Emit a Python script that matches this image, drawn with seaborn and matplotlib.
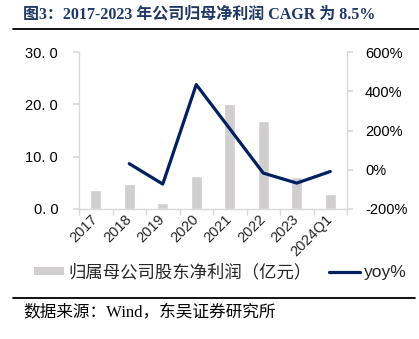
import numpy as np
import pandas as pd
import matplotlib
matplotlib.use("Agg")
import matplotlib.pyplot as plt
from matplotlib.patches import Patch
from matplotlib.lines import Line2D
import seaborn as sns

categories = ["2017", "2018", "2019", "2020", "2021", "2022", "2023", "2024Q1"]
profit = [3.7, 4.8, 1.15, 6.3, 20.0, 16.8, 6.1, 2.9]
yoy = [np.nan, 31, -73, 434, 209, -17, -68, -9]
left_ticks = [0, 10, 20, 30]
left_labels = ["0. 0", "10. 0", "20. 0", "30. 0"]
right_ticks = [-200, 0, 200, 400, 600]
right_labels = ["-200%", "0%", "200%", "400%", "600%"]
title = "图3：2017-2023 年公司归母净利润 CAGR 为 8.5%"
bar_label = "归属母公司股东净利润（亿元）"
line_label = "yoy%"
source = "数据来源：Wind，东吴证券研究所"

sns.set_theme(style="white")
plt.rcParams["font.family"] = ["Liberation Sans", "Noto Sans CJK SC", "DejaVu Sans"]

df = pd.DataFrame({"cat": categories, "profit": profit, "yoy": yoy,
                   "pos": np.arange(len(categories))})

W, H = 419, 339
fig = plt.figure(figsize=(W / 100, H / 100), dpi=100)
ax = fig.add_axes([79 / W, 130 / H, 268 / W, 157 / H])

bar_color = "#D0CECE"
line_color = "#002060"
spine_color = "#D9D9D9"

sns.barplot(data=df, x="cat", y="profit", color=bar_color, width=0.32,
            saturation=1, ax=ax)
ax.set_xlim(-0.5, len(categories) - 0.5)
ax.set_ylim(0, 30)
ax.set_yticks(left_ticks)
ax.set_yticklabels(left_labels, fontsize=10.5)
ax.set_xlabel("")
ax.set_ylabel("")

ax2 = ax.twinx()
sns.lineplot(data=df, x="pos", y="yoy", color=line_color, linewidth=2.3,
             ax=ax2, legend=False)
ax2.set_ylim(-200, 600)
ax2.set_yticks(right_ticks)
ax2.set_yticklabels(right_labels, fontsize=10.5)
ax2.set_xlim(-0.5, len(categories) - 0.5)
ax2.set_ylabel("")
ax2.set_xlabel("")

for a in (ax, ax2):
    a.spines["top"].set_visible(False)
    for s in ("left", "right", "bottom"):
        a.spines[s].set_color(spine_color)
        a.spines[s].set_linewidth(1.0)
ax.spines["right"].set_visible(False)
ax2.spines["left"].set_visible(False)
ax2.spines["bottom"].set_visible(False)

ax.tick_params(axis="y", left=True, length=4, color=spine_color, pad=11, labelcolor="#000000")
ax2.tick_params(axis="y", right=True, length=4, color=spine_color, pad=9, labelcolor="#000000")

ax.set_xticks(np.arange(len(categories)))
ax.set_xticks(np.arange(len(categories) + 1) - 0.5, minor=True)
ax.tick_params(axis="x", which="major", length=0, pad=6)
ax.tick_params(axis="x", which="minor", bottom=True, length=4, color=spine_color)
ax.set_xticklabels(categories, rotation=45, ha="right", va="center",
                   rotation_mode="anchor", fontsize=10.5)

handles = [Patch(facecolor=bar_color, edgecolor="none"),
           Line2D([0], [0], color=line_color, linewidth=2.3)]
fig.legend(handles, [bar_label, line_label], loc="center left",
           bbox_to_anchor=(34 / W, 1 - 272 / H), ncol=2, frameon=False,
           fontsize=12.5, handlelength=1.75, handleheight=0.35,
           handletextpad=0.25, columnspacing=1.0, borderpad=0, borderaxespad=0)

fig.text(23 / W, 1 - 15 / H, title, fontsize=11.5, fontweight="bold",
         color="#1F3864", va="center", ha="left",
         family=["Liberation Serif", "Noto Sans CJK SC"])
fig.add_artist(Line2D([13 / W, 1.0], [1 - 29 / H, 1 - 29 / H],
                      transform=fig.transFigure, color="#000000", linewidth=1.3))
fig.add_artist(Line2D([13 / W, 415 / W], [1 - 298 / H, 1 - 298 / H],
                      transform=fig.transFigure, color="#000000", linewidth=1.3))
fig.text(23 / W, 1 - 313 / H, source, fontsize=12, color="#000000",
         va="center", ha="left", family=["Liberation Serif", "Noto Sans CJK SC"])

fig.savefig("out.png", dpi=100)
